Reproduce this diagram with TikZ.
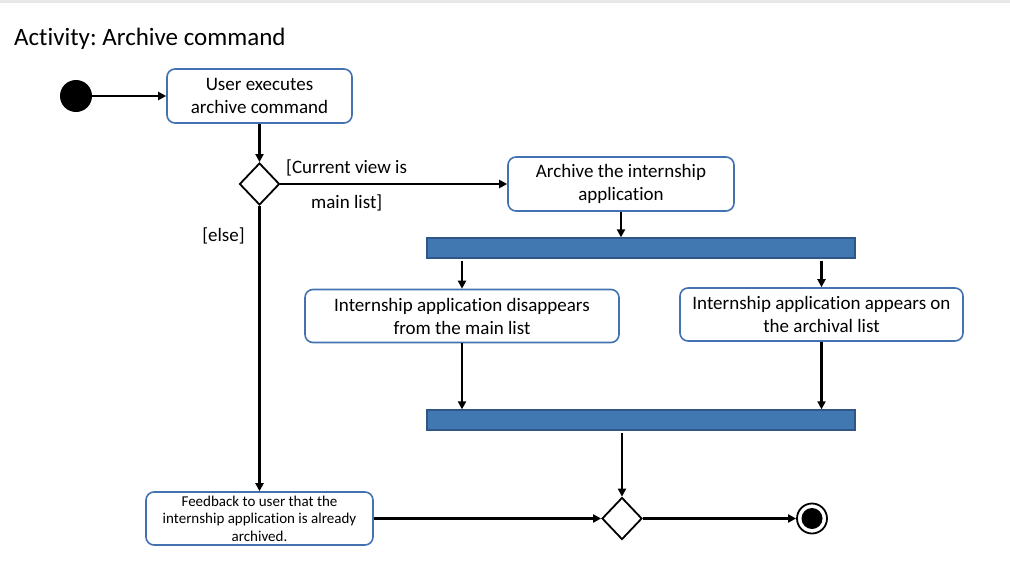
\documentclass[tikz,border=0pt]{standalone}
\usepackage{fontspec}
\setmainfont[RawFeature=-liga]{Carlito}
\frenchspacing
\usetikzlibrary{arrows.meta,shapes.geometric}
\definecolor{boxblue}{HTML}{4472B0}
\definecolor{barfill}{HTML}{4178B2}
\definecolor{bardraw}{HTML}{2E5687}
\tikzset{
  act/.style={draw=boxblue, line width=1.6pt, rounded corners=8pt, fill=white, align=center, inner sep=0pt},
  bigtxt/.style={font=\fontsize{19}{23}\selectfont},
  smalltxt/.style={font=\fontsize{15}{17.5}\selectfont},
  bar/.style={draw=bardraw, line width=1.3pt, fill=barfill, minimum width=428pt, minimum height=20pt, inner sep=0pt},
  decision/.style={draw=black, line width=1.8pt, diamond, minimum width=40pt, minimum height=42pt, inner sep=0pt},
  flow/.style={line width=2.6pt, -{Triangle[length=8pt,width=8pt]}},
  lbl/.style={font=\fontsize{19}{23}\selectfont, inner sep=0pt}
}
\begin{document}
\begin{tikzpicture}[x=1pt,y=-1pt]
\useasboundingbox (0,0) rectangle (1010,573);
\fill[gray!18] (0,0) rectangle (1010,3);
\node[anchor=west, inner sep=0pt, font=\fontsize{25}{30}\selectfont] (title) at (14,39) {Activity: Archive command};

\node[circle, fill=black, minimum size=32pt, inner sep=0pt] (start) at (76,96) {};
\node[act, bigtxt, minimum width=185pt, minimum height=54pt] (a1) at (259.5,96) {User executes\\archive command};
\node[decision] (d1) at (259.5,184) {};
\node[act, bigtxt, minimum width=226pt, minimum height=54pt] (a2) at (621,184) {Archive the internship\\application};
\node[bar] (bar1) at (641,248) {};
\node[act, bigtxt, minimum width=314pt, minimum height=53pt] (a3) at (462,316) {Internship application disappears\\from the main list};
\node[act, bigtxt, minimum width=283pt, minimum height=53pt] (a4) at (821.5,314.5) {Internship application appears on\\the archival list};
\node[bar] (bar2) at (641,420) {};
\node[act, smalltxt, minimum width=227pt, minimum height=53pt] (a5) at (259.5,518.5) {Feedback to user that the\\internship application is already\\archived.};
\node[decision] (d2) at (622,518.5) {};
\node[circle, draw=black, line width=1.8pt, fill=white, minimum size=30pt, inner sep=0pt] (end) at (812,518.5) {};
\node[circle, fill=black, minimum size=21pt, inner sep=0pt] (endin) at (end.center) {};

\node[lbl, anchor=west] (g1) at (286,168) {[Current view is};
\node[lbl, anchor=west] (g2) at (311,203) {main list]};
\node[lbl] (g3) at (223.5,236) {[else]};

\draw[flow] (start) -- (a1);
\draw[flow] (a1) -- (d1);
\draw[flow] (d1) -- (a2);
\draw[flow] (a2.south) -- (a2.south |- bar1.north);
\draw[flow, shorten <=2pt] (a3.north |- bar1.south) -- (a3.north);
\draw[flow, shorten <=2pt] (a4.north |- bar1.south) -- (a4.north);
\draw[flow] (a3.south) -- (a3.south |- bar2.north);
\draw[flow] (a4.south) -- (a4.south |- bar2.north);
\draw[flow, shorten <=2pt] (d2.north |- bar2.south) -- (d2.north);
\draw[flow] (d1.south) -- (a5.north);
\draw[flow] (a5.east) -- (d2.west);
\draw[flow] (d2.east) -- (end.west);
\end{tikzpicture}
\end{document}
